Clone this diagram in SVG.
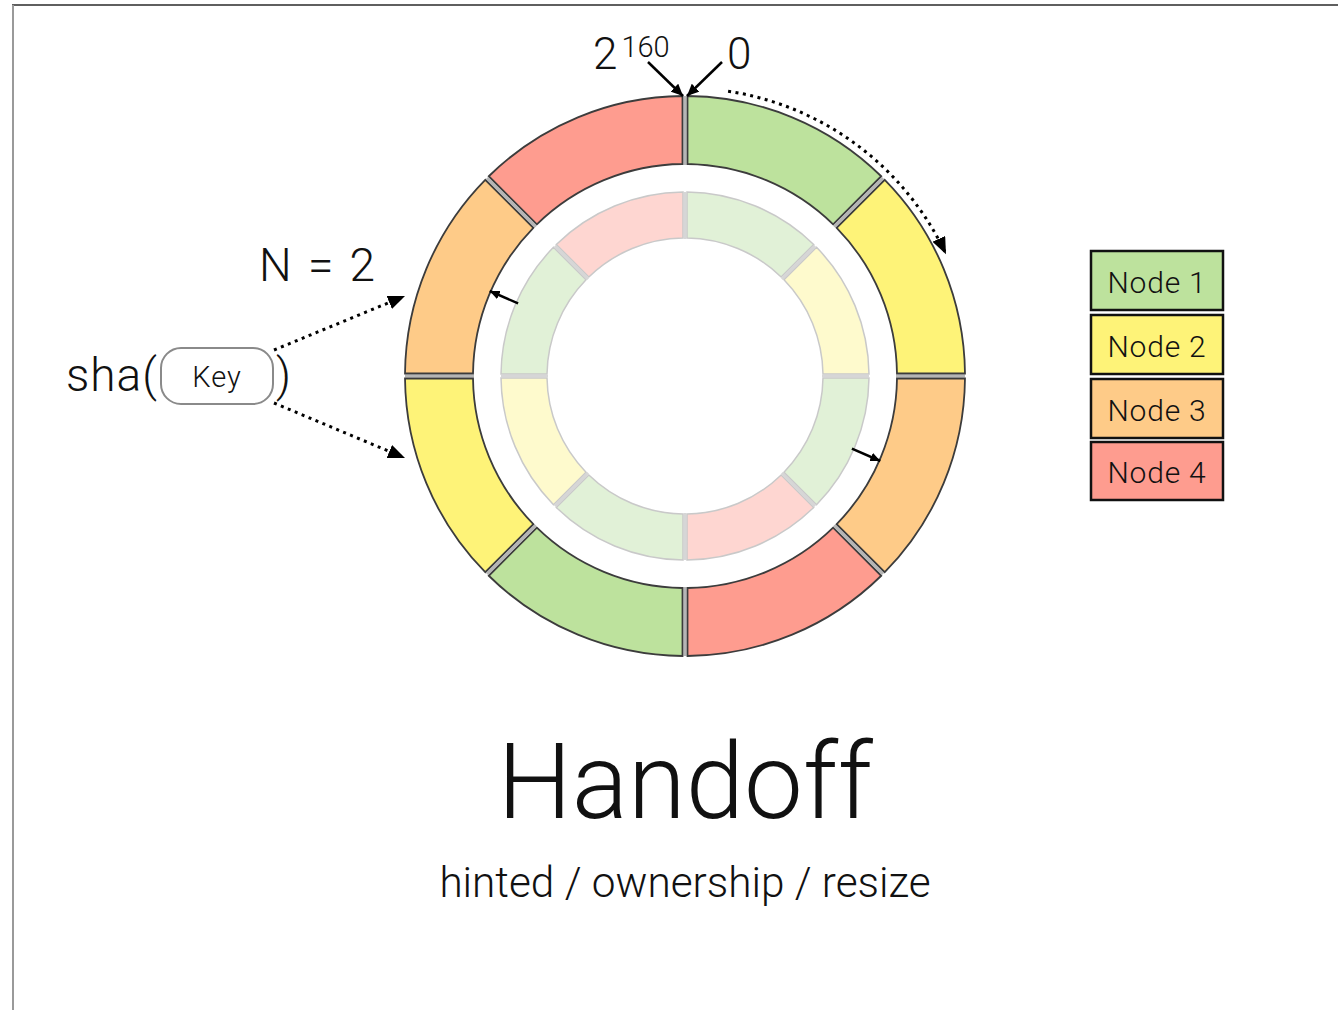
<svg xmlns="http://www.w3.org/2000/svg" width="1338" height="1010" viewBox="0 0 1338 1010">
  <style>
    .txt { font-family: Roboto, "Liberation Sans", Arial, sans-serif; font-weight: 300; fill: #111; }
    .n1 { fill: #bde29d; }
    .n2 { fill: #fef378; }
    .n3 { fill: #fecb88; }
    .n4 { fill: #fe9c8f; }
    .outer { stroke: #3c3c3c; stroke-width: 1.8; }
    .l1 { fill: #e1f1d7; }
    .l2 { fill: #fefacd; }
    .l4 { fill: #fed6d1; }
    .inner { stroke: #c9c9c9; stroke-width: 1.5; }
    .sep-o { stroke: #b5b5b5; stroke-width: 3; }
    .sep-i { stroke: #d6d6d6; stroke-width: 2.5; }
    .legend rect { stroke: #111; stroke-width: 2.5; }
    .legend text { font-size: 30px; letter-spacing: 0.8px; }
    .dotted { fill: none; stroke: #000; stroke-width: 3; stroke-dasharray: 3 4.5; }
    .solid { fill: none; stroke: #000; stroke-width: 2.5; }
  </style>
  <defs>
    <!-- one 45 degree slice of each ring, centred on the origin -->
    <path id="oseg" d="M2.5,-279.99 A280,280 0 0 1 196.21,-199.75 L148.13,-151.66 A212,212 0 0 0 2.5,-211.99 Z"/>
    <path id="iseg" d="M2,-183.99 A184,184 0 0 1 128.69,-131.51 L96.16,-98.98 A138,138 0 0 0 2,-137.99 Z"/>
    <marker id="head-big" markerUnits="userSpaceOnUse" markerWidth="18" markerHeight="14" refX="17" refY="7" orient="auto">
      <path d="M0,0 L17,7 L0,14 Z" fill="#000"/>
    </marker>
    <marker id="head-mid" markerUnits="userSpaceOnUse" markerWidth="13" markerHeight="11" refX="12" refY="5.5" orient="auto">
      <path d="M0,0 L12,5.5 L0,11 Z" fill="#000"/>
    </marker>
    <marker id="head-small" markerUnits="userSpaceOnUse" markerWidth="11" markerHeight="9" refX="10" refY="4.5" orient="auto">
      <path d="M0,0 L10,4.5 L0,9 Z" fill="#000"/>
    </marker>
  </defs>

  <rect width="1338" height="1010" fill="#fff"/>
  <!-- page frame -->
  <line x1="12" y1="5" x2="1338" y2="5" stroke="#2a2a2a" stroke-width="1.5"/>
  <line x1="13" y1="5" x2="13" y2="1010" stroke="#9a9a9a" stroke-width="2"/>

  <!-- outer ring: current owners -->
  <g id="ring-outer" transform="translate(685 376)">
    <g class="sep-o">
      <line x1="0" y1="-211" x2="0" y2="-280" transform="rotate(0)"/>
      <line x1="0" y1="-211" x2="0" y2="-280" transform="rotate(45)"/>
      <line x1="0" y1="-211" x2="0" y2="-280" transform="rotate(90)"/>
      <line x1="0" y1="-211" x2="0" y2="-280" transform="rotate(135)"/>
      <line x1="0" y1="-211" x2="0" y2="-280" transform="rotate(180)"/>
      <line x1="0" y1="-211" x2="0" y2="-280" transform="rotate(225)"/>
      <line x1="0" y1="-211" x2="0" y2="-280" transform="rotate(270)"/>
      <line x1="0" y1="-211" x2="0" y2="-280" transform="rotate(315)"/>
    </g>
    <use id="o-seg-1" href="#oseg" class="outer n1" transform="rotate(0)"/>
    <use id="o-seg-2" href="#oseg" class="outer n2" transform="rotate(45)"/>
    <use id="o-seg-3" href="#oseg" class="outer n3" transform="rotate(90)"/>
    <use id="o-seg-4" href="#oseg" class="outer n4" transform="rotate(135)"/>
    <use id="o-seg-5" href="#oseg" class="outer n1" transform="rotate(180)"/>
    <use id="o-seg-6" href="#oseg" class="outer n2" transform="rotate(225)"/>
    <use id="o-seg-7" href="#oseg" class="outer n3" transform="rotate(270)"/>
    <use id="o-seg-8" href="#oseg" class="outer n4" transform="rotate(315)"/>
  </g>

  <!-- inner ring: faded previous owners -->
  <g id="ring-inner" transform="translate(685 376)">
    <g class="sep-i">
      <line x1="0" y1="-137" x2="0" y2="-184" transform="rotate(0)"/>
      <line x1="0" y1="-137" x2="0" y2="-184" transform="rotate(45)"/>
      <line x1="0" y1="-137" x2="0" y2="-184" transform="rotate(90)"/>
      <line x1="0" y1="-137" x2="0" y2="-184" transform="rotate(135)"/>
      <line x1="0" y1="-137" x2="0" y2="-184" transform="rotate(180)"/>
      <line x1="0" y1="-137" x2="0" y2="-184" transform="rotate(225)"/>
      <line x1="0" y1="-137" x2="0" y2="-184" transform="rotate(270)"/>
      <line x1="0" y1="-137" x2="0" y2="-184" transform="rotate(315)"/>
    </g>
    <use id="i-seg-1" href="#iseg" class="inner l1" transform="rotate(0)"/>
    <use id="i-seg-2" href="#iseg" class="inner l2" transform="rotate(45)"/>
    <use id="i-seg-3" href="#iseg" class="inner l1" transform="rotate(90)"/>
    <use id="i-seg-4" href="#iseg" class="inner l4" transform="rotate(135)"/>
    <use id="i-seg-5" href="#iseg" class="inner l1" transform="rotate(180)"/>
    <use id="i-seg-6" href="#iseg" class="inner l2" transform="rotate(225)"/>
    <use id="i-seg-7" href="#iseg" class="inner l1" transform="rotate(270)"/>
    <use id="i-seg-8" href="#iseg" class="inner l4" transform="rotate(315)"/>
  </g>

  <!-- hashed key -->
  <g id="key">
    <text class="txt" x="66" y="391" font-size="46" letter-spacing="1">sha(</text>
    <rect x="161" y="348" width="112" height="56" rx="20" fill="#fff" stroke="#8a8a8a" stroke-width="2"/>
    <text class="txt" x="217" y="387" font-size="29" letter-spacing="1" text-anchor="middle">Key</text>
    <text class="txt" x="276" y="391" font-size="46">)</text>
  </g>

  <!-- labels -->
  <g id="labels">
    <text class="txt" x="259" y="281" font-size="46" word-spacing="5">N = 2</text>
    <text class="txt" x="593" y="69" font-size="44">2<tspan font-size="29" dx="4" dy="-12">160</tspan></text>
    <text class="txt" x="727" y="69" font-size="44">0</text>
    <text class="txt" x="685" y="818" font-size="105" text-anchor="middle">Handoff</text>
    <text class="txt" x="685" y="897" font-size="42.3" text-anchor="middle">hinted / ownership / resize</text>
  </g>

  <!-- legend -->
  <g id="legend" class="legend">
    <g id="legend-node-1">
      <rect class="n1" x="1091" y="251" width="132" height="59"/>
      <text class="txt" x="1157" y="293" text-anchor="middle">Node 1</text>
    </g>
    <g id="legend-node-2">
      <rect class="n2" x="1091" y="315" width="132" height="59"/>
      <text class="txt" x="1157" y="357" text-anchor="middle">Node 2</text>
    </g>
    <g id="legend-node-3">
      <rect class="n3" x="1091" y="379" width="132" height="59"/>
      <text class="txt" x="1157" y="421" text-anchor="middle">Node 3</text>
    </g>
    <g id="legend-node-4">
      <rect class="n4" x="1091" y="442" width="132" height="58"/>
      <text class="txt" x="1157" y="483" text-anchor="middle">Node 4</text>
    </g>
  </g>

  <!-- connectors -->
  <g id="connectors">
    <path class="dotted" d="M274,350 L405,296" marker-end="url(#head-big)"/>
    <path class="dotted" d="M274,403 L405,458" marker-end="url(#head-big)"/>
    <path class="dotted" d="M728.1,91.2 A288,288 0 0 1 946,254.3" marker-end="url(#head-big)"/>
    <path class="solid" d="M648,62 L683,96" marker-end="url(#head-mid)"/>
    <path class="solid" d="M722,62 L687,96" marker-end="url(#head-mid)"/>
    <path class="solid" d="M518.1,303.4 L489.7,291" marker-end="url(#head-small)"/>
    <path class="solid" d="M851.9,448.6 L880.3,461" marker-end="url(#head-small)"/>
  </g>
</svg>
